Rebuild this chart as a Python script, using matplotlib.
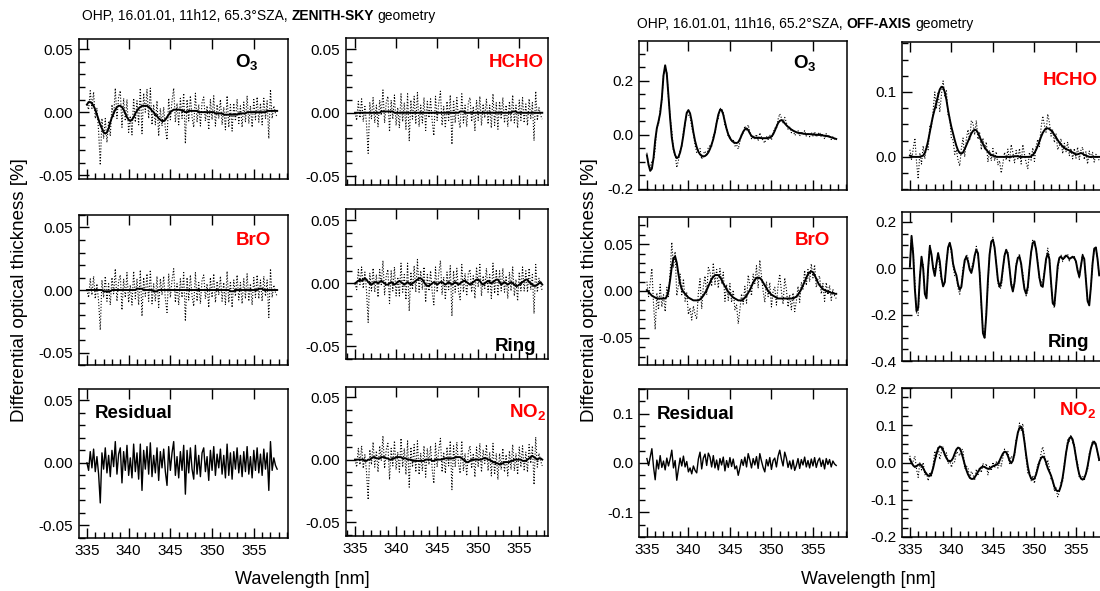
import numpy as np
import matplotlib
matplotlib.use('Agg')
import matplotlib.pyplot as plt
from matplotlib.ticker import MultipleLocator, FuncFormatter
from matplotlib.transforms import IdentityTransform

plt.rcParams['font.family'] = ['Liberation Sans', 'DejaVu Sans']
plt.rcParams['mathtext.fontset'] = 'custom'
plt.rcParams['mathtext.rm'] = 'Liberation Sans'
plt.rcParams['mathtext.bf'] = 'Liberation Sans:bold'

W, H = 1100, 591

# wavelength grid [nm], 0.2 nm steps 335.0 ... 357.8
wl = np.round(np.linspace(335.0, 357.8, 115), 1)

# all values, in units of 0.001 %
# ---- zenith-sky (11h12) ----
zen_resid = [0, -6, 9, -4, 11, -7, 5, -9, -32, 8,
             -5, 12, -8, 6, -11, 10, -3, 17, -9, 7,
             12, -16, 9, -6, 14, -10, 4, -12, 15, -7,
             8, -13, 15, -22, 10, -5, 13, -9, 16, -11,
             6, -8, 12, -14, 9, -4, 11, -7, -18, 13,
             -6, 8, 17, -10, 5, -12, 9, -6, 14, -25,
             10, -8, 12, -5, -13, 14, -9, 6, -11, 8,
             12, -7, 5, -14, 10, -6, 13, -10, 7, -4,
             11, -9, 6, -12, 15, -10, 8, -13, 9, -5,
             12, -8, 6, -11, 9, -7, 13, -9, 5, -12,
             10, -6, 12, -8, 7, -10, 11, -5, 8, -22,
             17, -6, 4, -2, -5]
zen_o3 = [6, 8, 8, 7, 5, 2, -2, -6, -10, -13,
          -16, -17, -16, -13, -8, -4, -1, 2, 4, 5,
          5, 4, 2, -1, -4, -6, -7, -6, -4, -1,
          1, 3, 4, 5, 5, 5, 5, 4, 3, 1,
          0, -2, -3, -5, -6, -7, -7, -6, -4, -2,
          0, 1, 2, 2, 2, 2, 2, 1, 1, 0,
          0, 1, 1, 1, 1, 1, 1, 0, 0, 0,
          0, 0, 0, 0, 0, 0, 0, -1, -1, -1,
          -1, -1, -2, -2, -2, -2, -2, -2, -2, -2,
          -2, -1, -1, -1, -1, -1, 0, 0, 0, 0,
          0, 0, 0, 0, 0, 0, 0, 0, 1, 1,
          1, 1, 1, 1, 1]
zen_hcho = [0, 0, 0, 0, 0, 0, 0, 0, 0, 0,
            0, 0, 0, 0, 0, 0, 1, 1, 1, 1,
            1, 1, 1, 1, 0, 0, 0, 0, 0, 0,
            0, 0, 0, 0, 0, 0, 0, 0, 0, 0,
            0, 0, 0, 0, 0, 0, 0, 0, 0, 0,
            0, 0, 0, 0, 0, 0, 0, 0, 0, 0,
            0, 0, 0, 0, 1, 1, 1, 0, 0, 0,
            0, 0, 0, 0, 0, 0, 0, 0, 0, 0,
            0, 0, 0, 0, 0, 0, 0, 0, 0, 0,
            0, 0, 0, 0, 0, 0, 1, 1, 1, 0,
            0, 0, 0, 0, 0, 0, 0, 0, 0, 0,
            0, 0, 0, 0, 0]
zen_bro = [0, 0, 0, 0, 0, 0, 0, 0, 0, 0,
           -1, -1, -1, -1, -1, 0, 0, 0, 0, 0,
           0, 0, 0, 0, 0, 0, 0, 0, 0, 0,
           1, 1, 1, 1, 0, 0, 0, 0, 0, 0,
           -1, -1, -1, 0, 0, 0, 0, 0, 0, 0,
           0, 0, 0, 0, 0, 0, 0, 0, 0, 0,
           0, 0, 0, 0, 0, 0, 0, 0, 0, 0,
           0, 0, 0, 0, 0, 0, 0, 0, 0, 0,
           0, 0, 0, 0, 0, 0, -1, -1, -1, 0,
           0, 0, 0, 0, 0, 0, 0, 0, 0, 0,
           0, 0, 0, 1, 1, 1, 0, 0, 0, 0,
           0, 0, 0, 0, 0]
zen_ring = [0, 1, 2, 3, 2, 3, 4, 3, 1, 0,
            -1, 0, 1, 1, 0, 1, 2, 1, 0, -1,
            -1, 0, 1, 0, -1, 0, 1, 2, 1, 0,
            -1, 0, 1, 0, -1, 0, 1, 2, 3, 4,
            4, 3, 1, -1, -2, -2, -1, 0, 1, 0,
            -1, 0, 1, 1, 0, -1, 0, 1, 0, -1,
            0, 1, 0, -1, 0, 1, 2, 2, 1, 0,
            -1, 0, 1, 2, 3, 3, 2, 0, -1, 0,
            1, 2, 1, 0, 1, 2, 3, 3, 1, -1,
            0, 1, 0, -1, 0, 1, 0, -1, -2, -2,
            -1, 0, 1, 2, 3, 3, 1, 0, -1, -2,
            -2, -1, 0, 1, -1]
zen_no2 = [0, 0, 0, 0, 0, 0, -1, -1, 0, 0,
           1, 2, 2, 1, 1, 1, 2, 2, 2, 1,
           1, 0, 0, 1, 1, 2, 2, 2, 2, 1,
           1, 1, 0, 0, 0, -1, -1, -1, -1, -1,
           -1, -1, -1, 0, 0, 0, 0, -1, -1, 0,
           0, 0, 0, 0, 1, 1, 1, 1, 1, 1,
           1, 2, 2, 2, 2, 1, 0, -1, -2, -2,
           -1, 0, 0, 0, 0, 0, 0, 0, 1, 1,
           1, 0, 0, -1, -2, -2, -3, -3, -4, -3,
           -3, -2, -2, -2, -2, -1, -1, 0, 0, 0,
           0, 0, -1, -1, -1, 0, 1, 2, 3, 2,
           1, 0, 1, 1, 0]

# ---- off-axis (11h16) ----
off_resid = [9, -5, 12, 29, -8, -34, 6, -12, 15, -9,
             4, -14, 10, -6, 8, 26, -10, 5, -35, -12,
             10, -6, 14, -8, 3, -18, -10, -22, -6, -15,
             -20, 8, 22, -12, 10, 18, -5, 20, 12, -8,
             15, -10, 6, -14, 9, -4, 12, -16, 5, -9,
             11, -7, 8, -12, -6, -25, -10, 7, -5, 12,
             -8, 19, 6, -10, 9, -4, 13, -11, 19, 4,
             -9, -18, 7, -6, 11, -13, 5, 10, -8, 14,
             26, 8, -6, 22, 10, -9, 4, -12, 6, -15,
             -5, 9, -11, 7, -4, 12, -8, 5, -10, 8,
             -6, 11, -9, 4, 10, -7, 6, -12, 9, -3,
             7, -8, 4, -2, -5]
off_o3 = [-75, -110, -133, -125, -85, -20, 25, 50, 80, 135,
          220, 258, 225, 145, 60, -10, -50, -75, -86, -82,
          -65, -38, 0, 45, 82, 92, 80, 50, 10, -22,
          -45, -62, -72, -78, -80, -78, -73, -65, -52, -35,
          -15, 12, 45, 75, 92, 93, 75, 48, 22, 2,
          -12, -20, -26, -29, -30, -27, -16, -2, 12, 21,
          24, 18, 6, -4, -9, -10, -11, -11, -11, -12,
          -12, -12, -12, -11, -10, -6, 2, 15, 30, 44,
          52, 55, 51, 43, 36, 30, 25, 20, 16, 13,
          10, 8, 7, 6, 5, 4, 3, 3, 3, 2,
          2, 1, 1, 0, 0, 0, -2, -3, -4, -5,
          -7, -9, -11, -13, -15]
off_hcho = [2, 1, 0, 0, 0, 0, 0, 1, 2, 6,
            14, 25, 38, 52, 64, 74, 84, 95, 104, 108,
            107, 100, 88, 72, 58, 46, 36, 26, 17, 10,
            6, 5, 7, 12, 18, 24, 30, 36, 40, 42,
            41, 37, 31, 25, 20, 15, 11, 8, 5, 3,
            2, 1, 0, 0, 0, 0, 0, 0, 0, 0,
            0, 0, 1, 1, 1, 1, 0, 0, 0, 0,
            0, 0, 0, 1, 3, 6, 11, 17, 24, 31,
            37, 41, 44, 44, 43, 41, 38, 34, 30, 26,
            22, 19, 16, 14, 12, 11, 10, 8, 7, 5,
            4, 4, 5, 6, 5, 3, 2, 1, 0, 0,
            0, 0, 0, 0, 0]
off_bro = [1, -1, -3, -5, -6, -7, -8, -8, -8, -8,
           -8, -8, -6, 0, 12, 26, 35, 37, 30, 18,
           8, 2, -1, -3, -5, -7, -8, -9, -10, -10,
           -10, -10, -9, -7, -5, -2, 1, 5, 9, 13,
           15, 17, 17, 17, 15, 12, 8, 5, 2, -1,
           -3, -5, -7, -8, -9, -10, -10, -10, -9, -7,
           -5, -2, 1, 5, 9, 12, 14, 14, 14, 12,
           9, 6, 3, 0, -2, -4, -5, -6, -7, -8,
           -8, -8, -8, -8, -8, -8, -8, -8, -8, -7,
           -6, -4, -1, 2, 6, 10, 14, 18, 20, 21,
           20, 17, 13, 9, 6, 4, 2, 1, 0, -1,
           -1, -2, -2, -3, -3]
off_ring = [7, 140, 60, -90, -185, -170, -40, 50, 0, -110,
            -130, 0, 94, 60, 0, -33, 20, 65, 30, -40,
            -78, -60, 20, 90, 110, 80, 20, -10, -30, -70,
            -92, -80, -20, 35, 50, 30, -5, -20, 10, 55,
            80, 65, -20, -150, -280, -300, -200, -50, 60, 115,
            123, 90, 20, -50, -80, -60, 0, 55, 80, 60,
            0, -70, -100, -60, 10, 45, 50, 20, -40, -90,
            -110, -80, 0, 70, 110, 116, 80, 20, -40, -75,
            -80, -20, 40, 65, 40, -60, -150, -160, -80, 10,
            45, 50, 40, 45, 55, 50, 40, 45, 50, 45,
            30, -10, -36, 10, 55, 40, -50, -140, -160, -80,
            20, 85, 90, 40, -30]
off_no2 = [9, 0, -8, -12, -10, -6, -5, -8, -15, -24,
           -31, -35, -36, -30, -15, 5, 24, 37, 43, 41,
           33, 22, 12, 5, 3, 5, 12, 24, 35, 40,
           38, 28, 12, -5, -20, -32, -40, -44, -44, -40,
           -33, -25, -18, -13, -11, -12, -15, -17, -16, -13,
           -10, -8, -6, -3, 5, 15, 24, 29, 28, 18,
           5, -2, 5, 25, 55, 80, 93, 96, 85, 55,
           20, -10, -32, -43, -46, -43, -32, -15, 2, 12,
           16, 12, 0, -15, -25, -35, -50, -65, -74, -77,
           -75, -62, -40, -10, 25, 50, 65, 69, 62, 42,
           15, -12, -32, -43, -46, -42, -30, -10, 15, 38,
           52, 56, 48, 28, 7]

fig = plt.figure(figsize=(W / 100, H / 100), dpi=100)


def px_axes(x0, y0, x1, y1):
    return fig.add_axes([x0 / W, 1 - y1 / H, (x1 - x0) / W, (y1 - y0) / H])


def fmt(d):
    def f(v, pos):
        s = f'{v:.{d}f}'
        return s.lstrip('-') if abs(v) < 1e-9 else s
    return FuncFormatter(f)


def style(ax, xlim, ylim, ymaj, ymin, dec, xlabels):
    ax.set_xlim(*xlim)
    ax.set_ylim(*ylim)
    ax.xaxis.set_major_locator(MultipleLocator(5))
    ax.xaxis.set_minor_locator(MultipleLocator(1))
    ax.yaxis.set_major_locator(MultipleLocator(ymaj))
    ax.yaxis.set_minor_locator(MultipleLocator(ymin))
    ax.yaxis.set_major_formatter(fmt(dec))
    ax.tick_params(which='major', direction='in', length=7, width=1,
                   top=True, right=False, labelsize=11, pad=4,
                   labelbottom=xlabels)
    ax.tick_params(which='minor', direction='in', length=4, width=1,
                   top=False, right=False)
    for sp in ax.spines.values():
        sp.set_linewidth(1.1)


def species(ax, fit, resid):
    fit = np.array(fit) / 1000
    meas = fit + np.array(resid) / 1000
    ax.plot(wl, meas, color='black', ls=':', lw=0.8)
    ax.plot(wl, fit, color='black', lw=1.4)


def label(ax, x, y, s, color='black', ha='right'):
    ax.text(x, y, s, transform=ax.transAxes, ha=ha, va='baseline',
            fontsize=13.5, fontweight='bold', color=color)


red = '#ff0000'
xl1 = (334.05, 359.1)
xl2 = (333.9, 358.5)

# ---------- zenith-sky block ----------
ax = px_axes(79, 39, 288, 179)
species(ax, zen_o3, zen_resid)
style(ax, xl1, (-0.053, 0.058), 0.05, 0.01, 2, False)
label(ax, 0.86, 0.80, r'$\mathbf{O_3}$')

ax = px_axes(346, 38, 548, 185)
species(ax, zen_hcho, zen_resid)
style(ax, xl2, (-0.057, 0.059), 0.05, 0.01, 2, False)
label(ax, 0.98, 0.80, 'HCHO', red)

ax = px_axes(79, 215, 288, 365)
species(ax, zen_bro, zen_resid)
style(ax, xl1, (-0.06, 0.06), 0.05, 0.01, 2, False)
label(ax, 0.92, 0.80, 'BrO', red)

ax = px_axes(346, 209, 548, 359)
species(ax, zen_ring, zen_resid)
style(ax, xl2, (-0.06, 0.059), 0.05, 0.01, 2, False)
label(ax, 0.94, 0.055, 'Ring')

ax = px_axes(79, 389, 288, 538)
ax.plot(wl, np.array(zen_resid) / 1000, color='black', lw=1.0)
style(ax, xl1, (-0.06, 0.059), 0.05, 0.01, 2, True)
label(ax, 0.077, 0.805, 'Residual', ha='left')

ax = px_axes(346, 387, 548, 536)
species(ax, zen_no2, zen_resid)
style(ax, xl2, (-0.061, 0.058), 0.05, 0.01, 2, True)
label(ax, 0.99, 0.80, r'$\mathbf{NO_2}$', red)

# ---------- off-axis block ----------
ax = px_axes(639, 41, 847, 190)
species(ax, off_o3, off_resid)
style(ax, xl1, (-0.204, 0.348), 0.2, 0.05, 1, False)
label(ax, 0.856, 0.817, r'$\mathbf{O_3}$')

ax = px_axes(902, 42, 1110, 190)
species(ax, off_hcho, off_resid)
style(ax, xl1, (-0.051, 0.177), 0.1, 0.025, 1, False)
label(ax, 0.94, 0.71, 'HCHO', red)

ax = px_axes(639, 217, 847, 365)
species(ax, off_bro, off_resid)
style(ax, xl1, (-0.079, 0.079), 0.05, 0.01, 2, False)
label(ax, 0.918, 0.81, 'BrO', red)

ax = px_axes(902, 212, 1110, 361)
species(ax, off_ring, off_resid)
style(ax, xl1, (-0.4, 0.243), 0.2, 0.05, 1, False)
label(ax, 0.90, 0.094, 'Ring')

ax = px_axes(639, 389, 847, 537)
ax.plot(wl, np.array(off_resid) / 1000, color='black', lw=1.0)
style(ax, xl1, (-0.15, 0.15), 0.1, 0.025, 1, True)
label(ax, 0.085, 0.80, 'Residual', ha='left')

ax = px_axes(902, 388, 1110, 537)
species(ax, off_no2, off_resid)
style(ax, xl1, (-0.2, 0.2), 0.1, 0.025, 1, True)
label(ax, 0.935, 0.82, r'$\mathbf{NO_2}$', red)

# ---------- titles and axis labels ----------
renderer = fig.canvas.get_renderer()


def text_width(s, size, weight):
    t = fig.text(0, 0, s, fontsize=size, fontweight=weight, transform=IdentityTransform())
    w = t.get_window_extent(renderer).width
    t.remove()
    return w


def rich_text(x_px, y_px, parts, size=10):
    gap = text_width('a a', size, 'normal') - text_width('aa', size, 'normal')
    x = x_px
    for s, weight in parts:
        t = fig.text(x, H - y_px, s, fontsize=size, fontweight=weight,
                     va='center', ha='left', transform=IdentityTransform())
        x += t.get_window_extent(renderer).width + gap


rich_text(82, 16, [('OHP, 16.01.01, 11h12, 65.3°SZA,', 'normal'),
                   ('ZENITH-SKY', 'bold'), ('geometry', 'normal')])
rich_text(637, 24, [('OHP, 16.01.01, 11h16, 65.2°SZA,', 'normal'),
                    ('OFF-AXIS', 'bold'), ('geometry', 'normal')])

ylab = 'Differential optical thickness [%]'
fig.text(20 / W, 1 - 290 / H, ylab, rotation=90, ha='center', va='center', fontsize=13.5)
fig.text(590 / W, 1 - 290 / H, ylab, rotation=90, ha='center', va='center', fontsize=13.5)
fig.text(302 / W, 1 - 579 / H, 'Wavelength [nm]', ha='center', va='center', fontsize=13)
fig.text(868 / W, 1 - 579 / H, 'Wavelength [nm]', ha='center', va='center', fontsize=13)

fig.savefig('out.png', dpi=100)
